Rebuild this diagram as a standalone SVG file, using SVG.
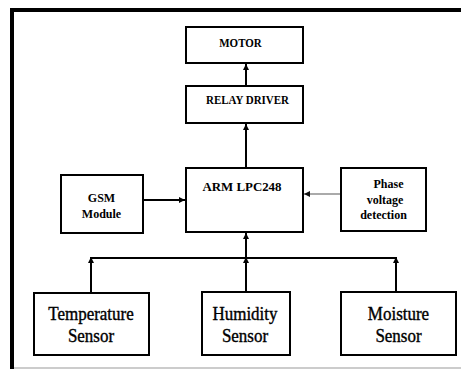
<svg xmlns="http://www.w3.org/2000/svg" width="461" height="369" viewBox="0 0 461 369">
<defs>
<marker id="ah" viewBox="0 0 10 10" refX="10" refY="5" markerWidth="3" markerHeight="3" orient="auto" markerUnits="strokeWidth">
<path d="M0,0 L10,5 L0,10 z" fill="#000"/>
</marker>
<marker id="ahg" viewBox="0 0 10 10" refX="10" refY="5" markerWidth="3" markerHeight="3" orient="auto" markerUnits="strokeWidth">
<path d="M0,0 L10,5 L0,10 z" fill="#111"/>
</marker>
<style>
.box{fill:#fff;stroke:#000;stroke-width:2}
.t{font-family:"Liberation Serif","Times New Roman",serif;font-weight:bold;fill:#000;text-anchor:middle}
.r{font-family:"Liberation Serif","Times New Roman",serif;font-weight:normal;fill:#000;stroke:#000;stroke-width:0.35;text-anchor:middle;font-size:17px}
.s{font-size:12px}
.xs{font-size:11px}
.c{stroke:#000;stroke-width:2;fill:none}
</style>
</defs>
<rect width="461" height="369" fill="#fff"/>
<g id="frame">
<line x1="10" y1="10" x2="461" y2="10" stroke="#000" stroke-width="4"/>
<line x1="12" y1="8" x2="12" y2="369" stroke="#000" stroke-width="4"/>
<line x1="14" y1="368" x2="461" y2="368" stroke="#999" stroke-width="1"/>
</g>
<g id="connectors">
<line class="c" x1="246" y1="86" x2="246" y2="64" marker-end="url(#ah)"/>
<line class="c" x1="246" y1="168" x2="246" y2="124" marker-end="url(#ah)"/>
<line class="c" x1="143" y1="200" x2="185" y2="200" marker-end="url(#ah)"/>
<line x1="341" y1="194" x2="304" y2="194" stroke="#aaa" stroke-width="2" marker-end="url(#ahg)"/>
<line class="c" x1="90" y1="258" x2="397" y2="258"/>
<line class="c" x1="91" y1="292" x2="91" y2="257" marker-end="url(#ah)"/>
<line class="c" x1="246" y1="292" x2="246" y2="257" marker-end="url(#ah)"/>
<line class="c" x1="396" y1="292" x2="396" y2="257" marker-end="url(#ah)"/>
<line class="c" x1="246" y1="258" x2="246" y2="233" marker-end="url(#ah)"/>
</g>
<g id="motor">
<rect class="box" x="186" y="27" width="117" height="36"/>
<text class="t xs" transform="translate(240.5,46.7) scale(1,1.12)" x="0" y="0">MOTOR</text>
</g>
<g id="relay">
<rect class="box" x="186" y="86" width="117" height="37"/>
<text class="t xs" transform="translate(247.5,104) scale(1,1.12)" x="0" y="0">RELAY DRIVER</text>
</g>
<g id="arm">
<rect class="box" x="186" y="168" width="117" height="64"/>
<text class="t s" x="242" y="190.5" textLength="79" lengthAdjust="spacingAndGlyphs">ARM LPC248</text>
</g>
<g id="gsm">
<rect class="box" x="61" y="175" width="82" height="58"/>
<text class="t s" x="101.5" y="201.7">GSM</text>
<text class="t s" x="101.5" y="218.3">Module</text>
</g>
<g id="phase">
<rect class="box" x="341" y="168" width="85" height="63"/>
<text class="t s" x="388.5" y="188.3">Phase</text>
<text class="t s" x="385" y="203.5">voltage</text>
<text class="t s" x="383.5" y="219.3">detection</text>
</g>
<g id="temperature">
<rect class="box" x="34" y="293" width="115" height="62"/>
<text class="r" transform="translate(91,320) scale(1,1.15)" x="0" y="0">Temperature</text>
<text class="r" transform="translate(91,341.5) scale(1,1.15)" x="0" y="0">Sensor</text>
</g>
<g id="humidity">
<rect class="box" x="202" y="292" width="88" height="63"/>
<text class="r" transform="translate(245,320) scale(1,1.15)" x="0" y="0">Humidity</text>
<text class="r" transform="translate(245,341.5) scale(1,1.15)" x="0" y="0">Sensor</text>
</g>
<g id="moisture">
<rect class="box" x="341" y="292" width="115" height="63"/>
<text class="r" transform="translate(398.5,320) scale(1,1.15)" x="0" y="0">Moisture</text>
<text class="r" transform="translate(398.5,341.5) scale(1,1.15)" x="0" y="0">Sensor</text>
</g>
</svg>
